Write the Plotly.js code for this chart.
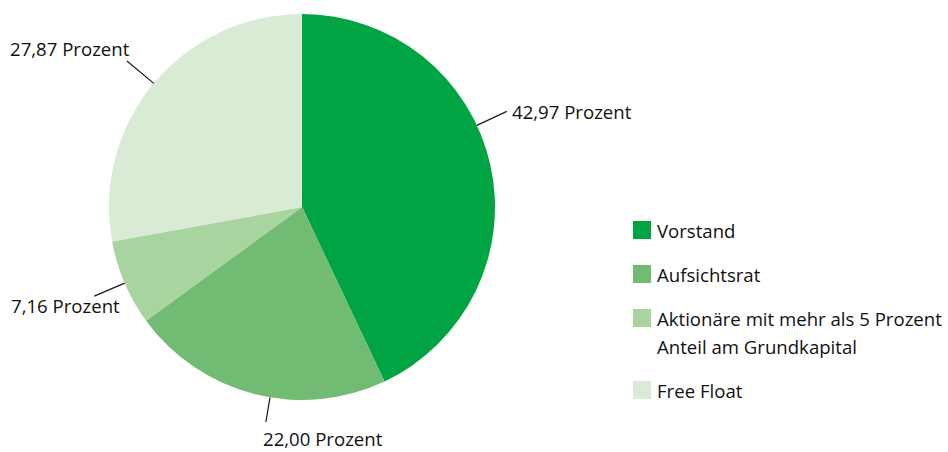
<!DOCTYPE html>
<html>
<head>
<meta charset="utf-8">
<script src="https://cdn.plot.ly/plotly-3.0.1.min.js"></script>
<style>html,body{margin:0;padding:0;background:#fff;}#chart{width:948px;height:452px;}</style>
</head>
<body>
<div id="chart"></div>
<script>
// ---- data ----
const labels = ['Vorstand', 'Aufsichtsrat', 'Aktionäre mit mehr als 5 Prozent<br>Anteil am Grundkapital', 'Free Float'];
const values = [42.97, 22.00, 7.16, 27.87];
const colors = ['#00a443', '#72bb72', '#a8d4a0', '#d9ead5'];
const unit = 'Prozent';

// ---- layout / style parameters ----
const W = 948, H = 452;
const CX = 302, CY = 207, R = 193;           // pie geometry in px
const FONT = 'Open Sans, Noto Sans, sans-serif';
const FS = 18.6;
const TXT = '#111111';
// per-slice leader line: fraction within slice, line length, label anchoring
const leader = [
  {frac: 0.42, len: 33, dx: 4,   dy: 0,  xa: 'left',   ya: 'middle'},
  {frac: 0.44, len: 25, dx: -4,  dy: 3,  xa: 'left',   ya: 'top'},
  {frac: 0.50, len: 33, dx: -29, dy: -4, xa: 'center', ya: 'top'},
  {frac: 0.50, len: 35, dx: 4,   dy: 1,  xa: 'right',  ya: 'bottom'}
];
const legendX = 633, legendY0 = 230, legendSq = 18, legendGap = 44, lineH = 28;

const px = x => x / W;
const py = y => 1 - y / H;

const total = values.reduce((a, b) => a + b, 0);
const shapes = [];
const annotations = [];
let cum = 0;
values.forEach((v, i) => {
  const L = leader[i];
  const ang = (cum + v * L.frac) / total * 2 * Math.PI; // clockwise from 12 o'clock
  cum += v;
  const sx = Math.sin(ang), sy = -Math.cos(ang);
  const x0 = CX + R * sx, y0 = CY + R * sy;
  const x1 = CX + (R + L.len) * sx, y1 = CY + (R + L.len) * sy;
  shapes.push({type: 'line', xref: 'paper', yref: 'paper',
    x0: px(x0), y0: py(y0), x1: px(x1), y1: py(y1),
    line: {color: '#1a1a1a', width: 1.2}});
  annotations.push({xref: 'paper', yref: 'paper', x: px(x1 + L.dx), y: py(y1 + L.dy),
    xanchor: L.xa, yanchor: L.ya, showarrow: false, borderpad: 0,
    text: v.toFixed(2).replace('.', ',') + ' ' + unit,
    font: {family: FONT, size: FS, color: TXT}});
});

// custom legend
let ly = legendY0;
labels.forEach((lab, i) => {
  shapes.push({type: 'rect', xref: 'paper', yref: 'paper', line: {width: 0},
    fillcolor: colors[i],
    x0: px(legendX), x1: px(legendX + legendSq),
    y0: py(ly - legendSq / 2), y1: py(ly + legendSq / 2)});
  const lines = lab.split('<br>');
  lines.forEach((t, k) => {
    annotations.push({xref: 'paper', yref: 'paper', x: px(legendX + legendSq + 5),
      y: py(ly + k * lineH), xanchor: 'left', yanchor: 'middle', showarrow: false,
      borderpad: 0,
      text: t, font: {family: FONT, size: FS, color: TXT}});
  });
  ly += (lines.length - 1) * lineH + legendGap;
});

const trace = {
  type: 'pie',
  labels: labels,
  values: values,
  sort: false,
  direction: 'clockwise',
  rotation: 0,
  textinfo: 'none',
  hoverinfo: 'label+percent',
  showlegend: false,
  marker: {colors: colors, line: {width: 0}},
  domain: {x: [px(CX - R), px(CX + R)], y: [py(CY + R), py(CY - R)]}
};

Plotly.newPlot('chart', [trace], {
  width: W, height: H,
  margin: {l: 0, r: 0, t: 0, b: 0},
  paper_bgcolor: '#ffffff',
  showlegend: false,
  shapes: shapes,
  annotations: annotations,
  font: {family: FONT}
}, {displayModeBar: false, staticPlot: true});
</script>
</body>
</html>
